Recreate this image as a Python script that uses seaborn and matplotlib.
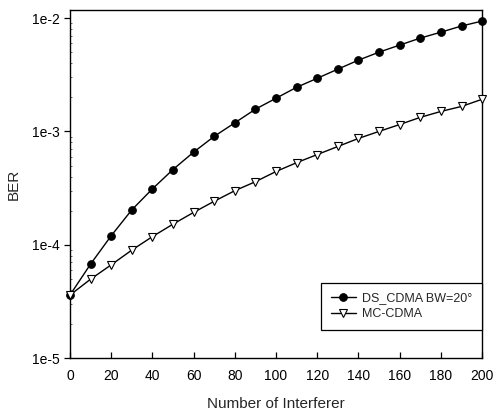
import numpy as np
import pandas as pd
import matplotlib
matplotlib.use("Agg")
import matplotlib.pyplot as plt
from matplotlib.ticker import FixedLocator, FuncFormatter, LogLocator, NullFormatter
import seaborn as sns

# data
interferers = [0, 10, 20, 30, 40, 50, 60, 70, 80, 90, 100,
               110, 120, 130, 140, 150, 160, 170, 180, 190, 200]
ds_cdma = [3.6e-5, 6.75e-5, 1.2e-4, 2.03e-4, 3.11e-4, 4.61e-4, 6.56e-4, 9.04e-4, 1.19e-3, 1.57e-3, 1.96e-3,
           2.45e-3, 2.94e-3, 3.54e-3, 4.25e-3, 5.0e-3, 5.77e-3, 6.65e-3, 7.5e-3, 8.5e-3, 9.4e-3]
mc_cdma = [3.6e-5, 4.97e-5, 6.65e-5, 8.97e-5, 1.18e-4, 1.52e-4, 1.93e-4, 2.42e-4, 3.0e-4, 3.6e-4, 4.43e-4,
           5.3e-4, 6.25e-4, 7.36e-4, 8.67e-4, 1.0e-3, 1.15e-3, 1.33e-3, 1.5e-3, 1.66e-3, 1.92e-3]
labels = ["DS_CDMA BW=20°", "MC-CDMA"]
x_ticks = [0, 20, 40, 60, 80, 100, 120, 140, 160, 180, 200]
y_ticks = [1e-5, 1e-4, 1e-3, 1e-2]

sns.set_style("ticks")
plt.rcParams['font.family'] = ['Liberation Sans', 'DejaVu Sans']

fig = plt.figure(figsize=(4.96, 4.16), dpi=100)
ax = fig.add_axes([0.141, 0.139, 0.831, 0.837])

sns.lineplot(x=interferers, y=ds_cdma, ax=ax, color='black', linewidth=1.0,
             marker='o', markersize=5.5, markerfacecolor='black', markeredgecolor='black',
             label=labels[0], clip_on=False, zorder=3)
sns.lineplot(x=interferers, y=mc_cdma, ax=ax, color='black', linewidth=1.0,
             marker='v', markersize=6, markerfacecolor='white', markeredgecolor='black',
             markeredgewidth=0.8, label=labels[1], clip_on=False, zorder=3)

ax.set_yscale('log')
ax.set_xlim(0, 200)
ax.set_ylim(1e-5, 1.177e-2)
ax.xaxis.set_major_locator(FixedLocator(x_ticks))
ax.yaxis.set_major_locator(FixedLocator(y_ticks))
ax.yaxis.set_major_formatter(FuncFormatter(lambda v, p: "1e%d" % round(np.log10(v))))
ax.yaxis.set_minor_locator(LogLocator(base=10, subs=np.arange(2, 10)))
ax.yaxis.set_minor_formatter(NullFormatter())

ax.tick_params(axis='x', direction='in', length=4, width=0.9, labelsize=10, pad=8, colors='black')
ax.tick_params(axis='y', which='major', direction='out', length=4, width=0.9, labelsize=10, colors='black')
ax.tick_params(axis='y', which='minor', direction='in', length=1.5, width=0.5)
for s in ax.spines.values():
    s.set_visible(True)
    s.set_linewidth(1.0)
    s.set_color('black')

ax.set_xlabel("Number of Interferer", fontsize=11, labelpad=10)
ax.set_ylabel("BER", fontsize=11, labelpad=8)

leg = ax.legend(loc='lower right', bbox_to_anchor=(1.0, 0.08), borderaxespad=0, fontsize=9,
                frameon=True, fancybox=False, framealpha=1, edgecolor='black',
                handlelength=2.0, handletextpad=0.5, borderpad=0.8, labelspacing=0.3)
leg.get_frame().set_linewidth(0.9)

fig.savefig("out.png", dpi=100)
